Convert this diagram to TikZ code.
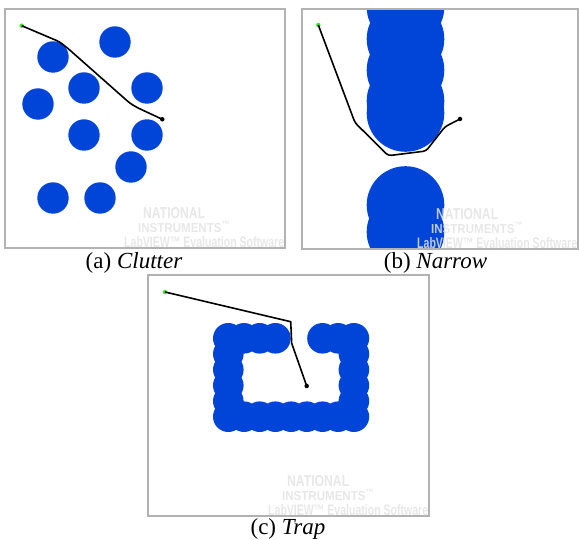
\documentclass[tikz,border=0pt]{standalone}
\usepackage{fontspec}
\setmainfont{Liberation Serif}
\newfontfamily\nifont{Liberation Sans}

\definecolor{obstblue}{RGB}{0,68,216}
\definecolor{startgreen}{RGB}{60,235,40}

\tikzstyle{panel} = [
    rectangle, draw=gray!60, line width=1.2pt,
    inner sep=0pt, outer sep=0pt
]
\tikzstyle{obstacle} = [fill=obstblue]
\tikzstyle{route} = [line width=1.6pt, black, line join=round, rounded corners=3pt]
\tikzstyle{startpt} = [circle, fill=startgreen, inner sep=0pt, minimum size=4.5pt]
\tikzstyle{goalpt} = [circle, fill=black, inner sep=0pt, minimum size=4.5pt]
\tikzstyle{caption} = [font=\fontsize{23}{27}\selectfont, inner sep=0pt]
\tikzstyle{watermark} = [
    text=gray!22, font=\nifont\bfseries,
    inner sep=0pt, anchor=west, opacity=0.85
]

\newcommand{\niwatermark}[1]{%
    \node (#1-nat) [watermark] at ([shift={(-142,-35)}]#1.south east) {\resizebox{62pt}{11pt}{NATIONAL}};
    \node (#1-ins) [watermark] at ([shift={(-147,-21)}]#1.south east) {\resizebox{92pt}{11pt}{INSTRUMENTS\textsuperscript{™}}};
    \node (#1-lab) [watermark] at ([shift={(-161,-6)}]#1.south east) {\resizebox{160pt}{11pt}{LabVIEW™ Evaluation Software}};
}

\begin{document}
\begin{tikzpicture}[x=1pt, y=-1pt]
    \useasboundingbox (0,0) rectangle (579,540);

    % (a) clutter
    \foreach \cx/\cy in {115/42, 53/57, 84/88, 147/88, 38/104,
                         84/135, 147/135, 131/167, 53/198, 100/198}
        \fill [obstacle] (\cx,\cy) circle [radius=15.7pt];
    \node (starta) [startpt] at (21.7,25.7) {};
    \node (goala) [goalpt] at (162.3,119.3) {};
    \draw [route] (starta.center) -- (59.3,41.7) -- (68,48.5) -- (130,103.3)
        -- (137,107.5) -- (goala.center);

    % (b) narrow
    \begin{scope}
        \clip (302,9) rectangle (578,249);
        \foreach \cy in {7, 39, 70, 101, 113, 205, 232}
            \fill [obstacle] (405.5,\cy) circle [radius=38.8pt];
    \end{scope}
    \node (startb) [startpt] at (318.3,25) {};
    \node (goalb) [goalpt] at (460,119) {};
    \draw [route] (startb.center) -- (355,122.7) -- (388.3,155.7) -- (426,151)
        -- (445,126.7) -- (goalb.center);

    % (c) trap
    \foreach \i in {0,...,8}
        \fill [obstacle] (228.3+15.7*\i,416.7) circle [radius=15.3pt];
    \foreach \j in {0,...,4} {
        \fill [obstacle] (228.3,338.3+15.7*\j) circle [radius=15.3pt];
        \fill [obstacle] (353.9,338.3+15.7*\j) circle [radius=15.3pt];
    }
    \foreach \i in {1,2,3,6,7}
        \fill [obstacle] (228.3+15.7*\i,338.3) circle [radius=15.3pt];
    \node (startc) [startpt] at (165,292) {};
    \node (goalc) [goalpt] at (306.7,386) {};
    \draw [route, rounded corners=0pt] (startc.center) -- (290.7,321.7) -- (291.7,343.3) -- (goalc.center);

    \node (framea) [panel, minimum width=280pt, minimum height=239pt] at (145,128.5) {};
    \node (frameb) [panel, minimum width=276pt, minimum height=240pt] at (440,129) {};
    \node (framec) [panel, minimum width=281pt, minimum height=241pt] at (288.5,395.5) {};

    \niwatermark{framea}
    \niwatermark{frameb}
    \niwatermark{framec}

    \node (capa) [caption] at (134,263) {(a) \textit{Clutter}};
    \node (capb) [caption] at (435.5,263) {(b) \textit{Narrow}};
    \node (capc) [caption] at (288,528.5) {(c) \textit{Trap}};
\end{tikzpicture}
\end{document}
